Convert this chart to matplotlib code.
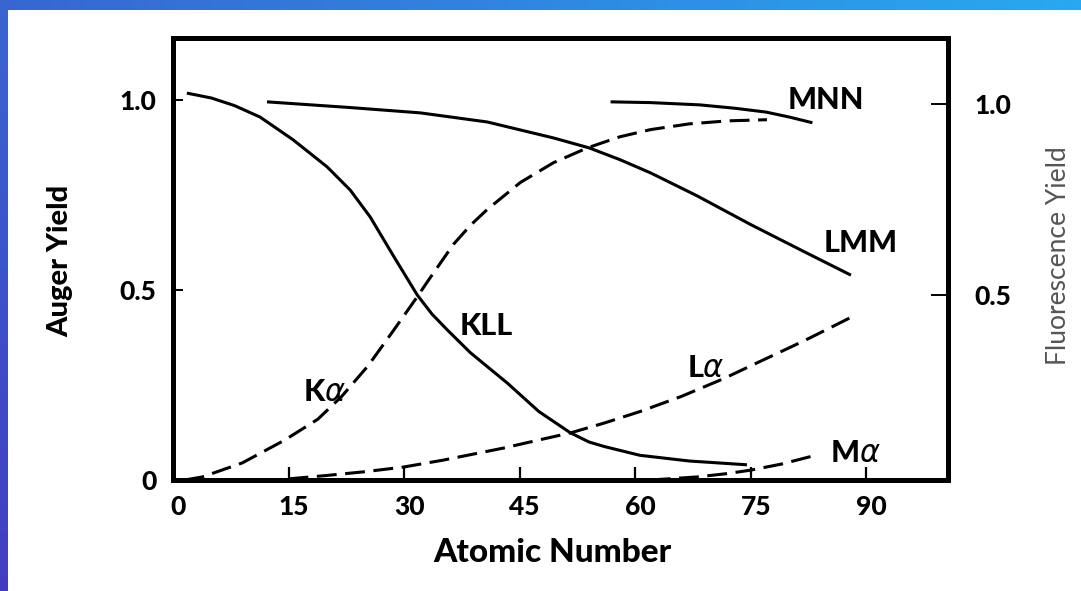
import numpy as np
import matplotlib.pyplot as plt
import matplotlib.transforms as mtransforms

# Auger yield (solid) and fluorescence yield (dashed) vs atomic number
kll_z = [1.8, 5, 8, 11.3, 15.6, 20, 23, 25.6, 28.6, 31.7, 33.6, 35.6, 38.6, 43.4, 47.5, 51.6,
         54, 56, 60.6, 67, 74.5]
kll_y = [1.018, 1.005, 0.985, 0.955, 0.895, 0.824, 0.763, 0.692, 0.59, 0.487, 0.437, 0.395,
         0.335, 0.255, 0.18, 0.124, 0.1, 0.088, 0.065, 0.05, 0.04]

lmm_z = [12.2, 23, 32.1, 40.8, 49.4, 54, 58, 62, 68, 75, 82, 88]
lmm_y = [0.995, 0.98, 0.966, 0.942, 0.9, 0.874, 0.843, 0.808, 0.748, 0.672, 0.6, 0.539]

mnn_z = [56.8, 62, 68.4, 73, 77, 80, 83]
mnn_y = [0.995, 0.993, 0.987, 0.978, 0.968, 0.955, 0.94]

ka_z = [1.5, 3.8, 9, 14.5, 18.8, 21.9, 25.3, 28.5, 31.7, 33, 36.4, 38.6, 40.8, 45.1, 49.4,
        53.8, 58, 62, 67, 72, 77.1]
ka_y = [0.0, 0.008, 0.045, 0.105, 0.16, 0.22, 0.3, 0.39, 0.482, 0.521, 0.62, 0.67, 0.712,
        0.783, 0.835, 0.874, 0.903, 0.922, 0.937, 0.945, 0.948]

la_z = [15, 20, 25, 29.9, 35, 42.9, 47, 51.6, 56, 60.6, 66, 71.4, 76, 82, 88.2]
la_y = [0.003, 0.012, 0.022, 0.034, 0.052, 0.084, 0.103, 0.124, 0.15, 0.18, 0.22, 0.266,
        0.31, 0.367, 0.43]

ma_z = [62, 68, 72, 75, 79, 83.6]
ma_y = [0.0, 0.008, 0.017, 0.026, 0.042, 0.066]

x_ticks = [0, 15, 30, 45, 60, 75, 90]
left_ticks = [0, 0.5, 1.0]
left_labels = ['0', '0.5', '1.0']
right_ticks = [0.5, 1.0]
right_labels = ['0.5', '1.0']

FONT = 'Lato'
HEAVY = 'black'

fig = plt.figure(figsize=(10.81, 5.91), dpi=100)
fig.patch.set_facecolor('white')

# blue frame strips along top and left edge
top = fig.add_axes([0, 1 - 10 / 591, 1, 10 / 591])
grad = np.linspace(0, 1, 256)
c0 = np.array([0.22, 0.40, 0.82])
c1 = np.array([0.16, 0.66, 0.94])
top.imshow((c0 + (c1 - c0) * grad[:, None])[None, :, :], aspect='auto')
top.axis('off')
left = fig.add_axes([0, 0, 8 / 1081, 1])
c2 = np.array([0.26, 0.24, 0.75])
left.imshow((c2 + (c0 - c2) * grad[:, None])[:, None, :], aspect='auto', origin='lower')
left.axis('off')

ax = fig.add_axes([173 / 1081, 1 - 480 / 591, 775 / 1081, 442 / 591])
ax.set_xlim(0, 100.6)
ax.set_ylim(0, 1.163)

lw = 2.2
dash = (6.5, 2.8)
ax.plot(kll_z, kll_y, color='black', lw=lw, solid_capstyle='butt')
ax.plot(lmm_z, lmm_y, color='black', lw=lw, solid_capstyle='butt')
ax.plot(mnn_z, mnn_y, color='black', lw=lw, solid_capstyle='butt')
for z, y in [(ka_z, ka_y), (la_z, la_y), (ma_z, ma_y)]:
    ax.plot(z, y, color='black', lw=lw, linestyle=(0, dash), dash_capstyle='butt')

for s in ax.spines.values():
    s.set_linewidth(3.6)

ax.set_xticks(x_ticks)
ax.set_xticklabels([str(t) for t in x_ticks])
ax.set_yticks(left_ticks)
ax.set_yticklabels(left_labels)
ax.tick_params(axis='x', direction='in', length=9.5, width=1.6, pad=11, labelsize=19)
ax.tick_params(axis='y', direction='in', length=7, width=1.4, pad=12, labelsize=19)
ax.xaxis.get_major_ticks()[0].tick1line.set_visible(False)
offset = mtransforms.ScaledTranslation(5 / 100, 0, fig.dpi_scale_trans)
for lab in ax.get_xticklabels():
    lab.set_transform(lab.get_transform() + offset)
for lab in ax.get_xticklabels() + ax.get_yticklabels():
    lab.set_fontfamily(FONT)
    lab.set_fontweight(HEAVY)

ax2 = ax.twinx()
ax2.set_ylim(0.016, 1.173)
ax2.set_yticks(right_ticks)
ax2.set_yticklabels(right_labels)
ax2.tick_params(axis='y', direction='in', length=12, width=1.4, pad=19, labelsize=19)
for lab in ax2.get_yticklabels():
    lab.set_fontfamily(FONT)
    lab.set_fontweight(HEAVY)
for s in ax2.spines.values():
    s.set_linewidth(3.6)

fig.text(552 / 1081, 1 - 552 / 591, 'Atomic Number', ha='center', va='center',
         fontsize=24, fontweight=HEAVY, family=FONT)
fig.text(60 / 1081, 1 - 261 / 591, 'Auger Yield', ha='center', va='center', rotation=90,
         fontsize=21, fontweight=HEAVY, family=FONT)
fig.text(1058 / 1081, 1 - 256 / 591, 'Fluorescence Yield', ha='center', va='center',
         rotation=90, fontsize=19, color='#555555', family=FONT)

# curve labels
lab_kw = dict(ha='center', va='center', fontsize=22, fontweight=HEAVY, family=FONT)
ax.text(84.7, 1.0, 'MNN', **lab_kw)
ax.text(89.3, 0.623, 'LMM', **lab_kw)
ax.text(40.6, 0.405, 'KLL', **lab_kw)
ax.text(19.6, 0.232, r'K$\alpha$', **lab_kw)
ax.text(69.2, 0.295, r'L$\alpha$', **lab_kw)
ax.text(88.6, 0.071, r'M$\alpha$', **lab_kw)

fig.savefig('out.png', dpi=100)
